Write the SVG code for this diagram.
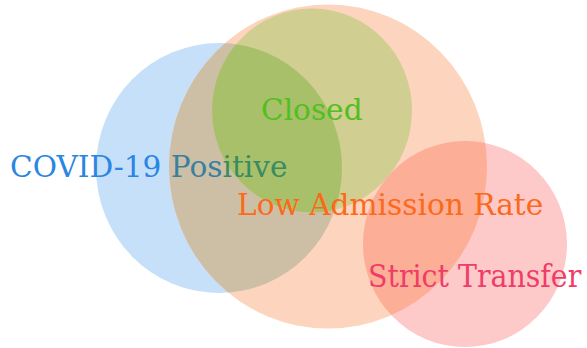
<svg xmlns="http://www.w3.org/2000/svg" width="587" height="348" viewBox="0 0 587 348">
<style>
.lbl{font-family:"DejaVu Serif","Liberation Serif",serif;font-size:29.6px}
.cond{font-size:31.6px;font-stretch:condensed}
</style>
<defs>
<ellipse id="eB" cx="219" cy="168" rx="123" ry="125"/>
<ellipse id="eO" cx="328" cy="166.5" rx="159" ry="162"/>
<ellipse id="eG" cx="312" cy="110.5" rx="100" ry="102"/>
<ellipse id="eR" cx="465" cy="244" rx="102" ry="103"/>
<clipPath id="cB"><use href="#eB"/></clipPath>
<clipPath id="cO"><use href="#eO"/></clipPath>
</defs>
<rect width="587" height="348" fill="#ffffff"/>
<g id="covid-positive-set"><use href="#eB" fill="#c6e0fa"/></g>
<g id="low-admission-rate-set"><use href="#eO" fill="#fdd4bd"/></g>
<g id="overlaps">
<use href="#eB" fill="#cdbfa5" clip-path="url(#cO)"/>
</g>
<g id="closed-set">
<use href="#eG" fill="#d0ce90"/>
<use href="#eG" fill="#a9c06b" clip-path="url(#cB)"/>
</g>
<g id="strict-transfer-set">
<use href="#eR" fill="#fec9c9"/>
<use href="#eR" fill="#fdae96" clip-path="url(#cO)"/>
</g>
<g id="labels">
<text id="covid-positive" class="lbl" x="10" y="177"><tspan fill="#2a86e2">COVID-19 </tspan><tspan fill="#3b7fa0">Pos</tspan><tspan fill="#3a8a62">itive</tspan></text>
<text id="closed" class="lbl" x="261" y="120" fill="#52bf1c">Closed</text>
<text id="low-admission-rate" class="lbl" x="237" y="215" fill="#fb6a1a">Low Admission Rate</text>
<text id="strict-transfer" class="lbl cond" x="368" y="287" fill="#ef3d68">Strict Transfer</text>
</g>
</svg>
